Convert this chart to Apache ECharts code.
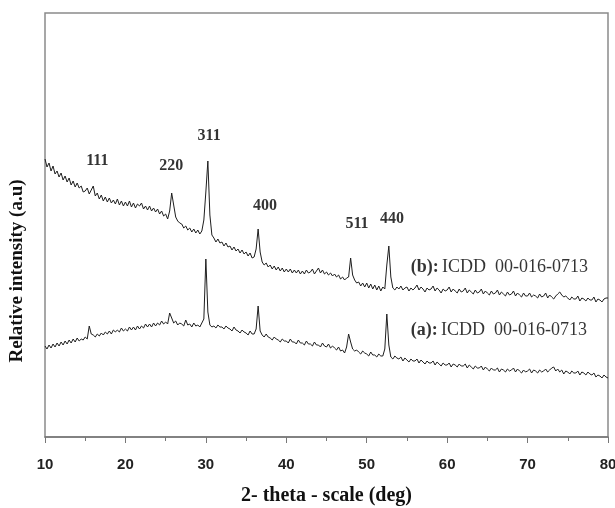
<!DOCTYPE html>
<html>
<head>
<meta charset="utf-8">
<script src="https://cdn.jsdelivr.net/npm/echarts@6/dist/echarts.min.js"></script>
<style>
  html, body { margin: 0; padding: 0; background: #fff; }
  #chart { width: 615px; height: 508px; }
</style>
</head>
<body>
<div id="chart"></div>
<script>
// sampling grid of the scans (deg)
const THETA_START = 10
const THETA_STEP = 0.25

// trace (b), upper pattern, one row per degree (10, 10.25, 10.5, 10.75)
const traceB = [
  278, 270, 274, 266,
  271, 263, 266, 260,
  264, 257, 261, 255,
  259, 252, 256, 250,
  254, 249, 251, 245,
  246, 249, 243, 247,
  251, 241, 244, 238,
  242, 236, 240, 235,
  239, 234, 237, 233,
  238, 232, 236, 231,
  235, 231, 236, 230,
  234, 229, 233, 231,
  234, 228, 231, 227,
  231, 226, 229, 225,
  228, 223, 226, 221,
  223, 218, 226, 244,
  232, 220, 216, 214,
  213, 209, 211, 207,
  209, 205, 208, 204,
  207, 203, 206, 217,
  245, 276, 222, 202,
  199, 195, 198, 194,
  195, 191, 194, 190,
  191, 187, 190, 186,
  188, 184, 187, 183,
  185, 181, 184, 179,
  180, 188, 208, 185,
  175, 172, 174, 170,
  172, 168, 171, 167,
  170, 166, 169, 165,
  168, 165, 168, 164,
  167, 164, 167, 163,
  166, 163, 167, 164,
  165, 168, 163, 166,
  169, 164, 167, 163,
  165, 162, 164, 161,
  163, 160, 162, 158,
  160, 157, 159, 160,
  179, 162, 157, 154,
  155, 151, 154, 150,
  154, 149, 153, 148,
  152, 147, 151, 146,
  150, 148, 172, 191,
  160, 149, 147, 150,
  148, 151, 147, 149,
  150, 146, 149, 147,
  149, 152, 147, 150,
  148, 145, 149, 147,
  148, 151, 146, 149,
  147, 144, 148, 146,
  147, 150, 145, 148,
  146, 144, 148, 145,
  146, 149, 144, 147,
  145, 143, 147, 144,
  145, 148, 143, 146,
  144, 142, 146, 143,
  144, 147, 142, 145,
  143, 141, 145, 142,
  143, 146, 141, 144,
  142, 140, 144, 141,
  141, 144, 140, 142,
  141, 139, 143, 140,
  141, 144, 139, 142,
  140, 138, 141, 143,
  145, 142, 140, 141,
  139, 137, 140, 138,
  138, 141, 136, 139,
  138, 136, 139, 137,
  137, 140, 135, 138,
  137, 135, 138, 139,
  139
]

// trace (a), lower pattern
const traceA = [
  91, 88, 92, 89,
  93, 90, 94, 91,
  95, 92, 96, 93,
  97, 94, 98, 95,
  99, 96, 98, 97,
  100, 98, 111, 103,
  102, 100, 103, 101,
  104, 102, 105, 103,
  106, 103, 107, 105,
  107, 105, 109, 106,
  108, 106, 110, 107,
  110, 107, 111, 108,
  111, 109, 113, 110,
  113, 110, 114, 111,
  114, 112, 116, 113,
  115, 113, 124, 119,
  114, 116, 112, 114,
  113, 111, 117, 112,
  113, 110, 114, 111,
  112, 110, 114, 118,
  178, 125, 112, 110,
  111, 109, 112, 110,
  110, 108, 111, 109,
  108, 106, 110, 107,
  106, 104, 107, 105,
  104, 102, 106, 103,
  103, 108, 131, 106,
  102, 100, 103, 100,
  99, 97, 100, 98,
  97, 95, 98, 96,
  96, 94, 98, 95,
  95, 93, 97, 94,
  94, 92, 96, 93,
  93, 91, 95, 92,
  92, 90, 94, 91,
  90, 93, 89, 91,
  89, 87, 90, 86,
  87, 84, 90, 103,
  95, 88, 86, 87,
  85, 83, 86, 84,
  83, 81, 85, 82,
  82, 80, 83, 81,
  81, 88, 123, 92,
  80, 78, 81, 79,
  78, 80, 76, 79,
  77, 75, 78, 76,
  76, 78, 74, 77,
  75, 73, 76, 74,
  74, 76, 72, 75,
  73, 71, 74, 72,
  72, 74, 70, 73,
  72, 70, 73, 71,
  71, 73, 69, 72,
  70, 68, 71, 69,
  69, 71, 67, 70,
  68, 66, 69, 67,
  67, 69, 65, 68,
  67, 65, 68, 66,
  67, 69, 65, 68,
  66, 64, 67, 65,
  66, 68, 64, 67,
  66, 64, 67, 65,
  66, 68, 65, 67,
  69, 70, 66, 68,
  65, 67, 63, 66,
  65, 63, 66, 64,
  64, 66, 62, 65,
  64, 62, 65, 63,
  62, 64, 60, 62,
  61, 59, 62, 60,
  59
]

// reflection labels: [2theta, intensity]
const peakNames = ['111', '220', '311', '400', '511', '440']
const peakPos = [[16.5, 276], [25.7, 271], [30.4, 301], [37.35, 231], [48.8, 213], [53.15, 218]]

const cardLabels = [
  { tag: '(b):', text: 'ICDD  00-016-0713', pos: [55.4, 170] },
  { tag: '(a):', text: 'ICDD  00-016-0713', pos: [55.4, 107] }
]

const toPairs = arr => arr.map((v, i) => [THETA_START + i * THETA_STEP, v])

const chart = echarts.init(document.getElementById('chart'))

chart.setOption({
  backgroundColor: '#fff',
  animation: false,
  grid: {
    left: 45,
    right: 7,
    top: 13,
    bottom: 71,
    outerBoundsMode: 'none',
    containLabel: false,
    show: true,
    borderColor: '#8a8a8a',
    borderWidth: 1.5
  },
  graphic: [
    {
      type: 'text',
      x: 17,
      y: 271,
      rotation: Math.PI / 2,
      style: {
        text: 'Relative intensity (a.u)',
        fontFamily: 'Liberation Serif',
        fontWeight: 'bold',
        fontSize: 19,
        fill: '#111',
        align: 'center',
        verticalAlign: 'middle'
      }
    }
  ],
  xAxis: {
    type: 'value',
    min: 10,
    max: 80,
    interval: 10,
    name: '2- theta - scale (deg)',
    nameLocation: 'middle',
    nameGap: 49,
    nameTextStyle: {
      fontFamily: 'Liberation Serif',
      fontWeight: 'bold',
      fontSize: 20,
      color: '#111'
    },
    axisLine: { show: true, lineStyle: { color: '#777', width: 1.5 } },
    axisTick: { show: true, length: 6, lineStyle: { color: '#777' } },
    minorTick: { show: true, splitNumber: 2, length: 4, lineStyle: { color: '#777' } },
    axisLabel: {
      margin: 20,
      fontFamily: 'Liberation Sans',
      fontWeight: 'bold',
      fontSize: 15,
      color: '#222'
    },
    splitLine: { show: false }
  },
  yAxis: {
    type: 'value',
    min: 0,
    max: 424,
    axisLine: { show: false },
    axisTick: { show: false },
    axisLabel: { show: false },
    splitLine: { show: false }
  },
  series: [
    {
      name: 'b',
      type: 'line',
      data: toPairs(traceB),
      showSymbol: false,
      lineStyle: { color: '#1e1e1e', width: 1 }
    },
    {
      name: 'a',
      type: 'line',
      data: toPairs(traceA),
      showSymbol: false,
      lineStyle: { color: '#1e1e1e', width: 1 }
    },
    {
      name: 'peaks',
      type: 'scatter',
      symbolSize: 1,
      itemStyle: { color: 'rgba(0,0,0,0)' },
      data: peakNames.map((n, i) => ({ name: n, value: peakPos[i] })),
      label: {
        show: true,
        position: 'inside',
        formatter: p => p.name,
        fontFamily: 'Liberation Serif',
        fontWeight: 'bold',
        fontSize: 16,
        color: '#000'
      }
    },
    {
      name: 'cards',
      type: 'scatter',
      symbolSize: 1,
      itemStyle: { color: 'rgba(0,0,0,0)' },
      data: cardLabels.map(c => ({ name: c.tag, value: c.pos, text: c.text })),
      label: {
        show: true,
        position: 'right',
        distance: 0,
        formatter: p => '{t|' + p.name + '} {n|' + p.data.text + '}',
        rich: {
          t: { fontFamily: 'Liberation Serif', fontWeight: 'bold', fontSize: 18, color: '#000' },
          n: { fontFamily: 'Liberation Serif', fontSize: 18, color: '#000' }
        }
      }
    }
  ]
})
</script>
</body>
</html>
